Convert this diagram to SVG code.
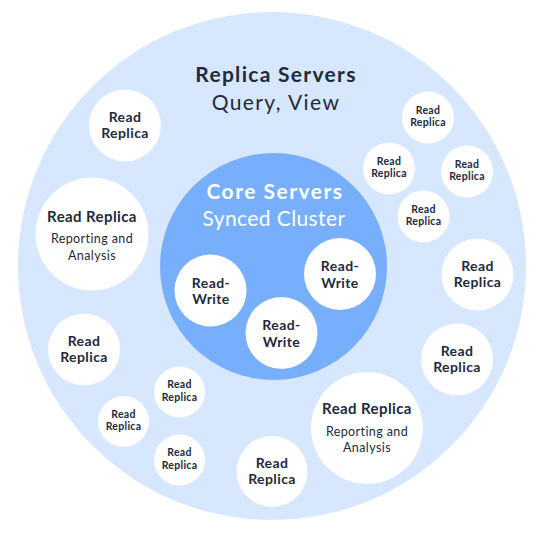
<svg xmlns="http://www.w3.org/2000/svg" width="539" height="533" viewBox="0 0 539 533">
<style>
.node{fill:#ffffff}
.t{font-family:Lato,"Open Sans","DejaVu Sans",sans-serif;fill:#1f2a3b;text-anchor:middle}
.b15{font-size:14px;font-weight:700;letter-spacing:0.4px}
.b11{font-size:10.5px;font-weight:700;letter-spacing:0.3px}
.h14{font-size:15px;font-weight:700;letter-spacing:0.4px}
.r13{font-size:12.5px;font-weight:400;letter-spacing:0.4px}
.w{fill:#ffffff}
</style>
<rect width="539" height="533" fill="#ffffff"/>
<g id="replica-servers">
<circle cx="272" cy="266" r="254" fill="#d7e7fd"/>
<text class="t" x="276" y="82" font-size="21" font-weight="700" letter-spacing="1.3">Replica Servers</text>
<text class="t" x="276" y="110" font-size="21" font-weight="400" letter-spacing="1.4">Query, View</text>
</g>
<g id="core-servers">
<circle cx="273.5" cy="266.5" r="113.5" fill="#77affc"/>
<text class="t w" x="275" y="199" font-size="21" font-weight="700" letter-spacing="1.5">Core Servers</text>
<text class="t w" x="274" y="226" font-size="21" font-weight="400" letter-spacing="0.4">Synced Cluster</text>
</g>
<g id="connectors"></g>
<g id="rw1"><circle class="node" cx="210.5" cy="290.5" r="36"/><text class="t b15" x="211" y="287.5">Read-</text><text class="t b15" x="211" y="304">Write</text></g>
<g id="rw2"><circle class="node" cx="340" cy="274" r="36"/><text class="t b15" x="340" y="271">Read-</text><text class="t b15" x="340" y="287.5">Write</text></g>
<g id="rw3"><circle class="node" cx="281.5" cy="333" r="36"/><text class="t b15" x="281.5" y="330">Read-</text><text class="t b15" x="281.5" y="346.5">Write</text></g>
<g id="rr1"><circle class="node" cx="125" cy="125.5" r="36"/><text class="t b15" x="125" y="121.5">Read</text><text class="t b15" x="125" y="138">Replica</text></g>
<g id="rr-big-left"><circle class="node" cx="92" cy="234" r="56.5"/><text class="t h14" x="92" y="222">Read Replica</text><text class="t r13" x="92" y="243">Reporting and</text><text class="t r13" x="92" y="259.5">Analysis</text></g>
<g id="rr2"><circle class="node" cx="84" cy="349.5" r="36"/><text class="t b15" x="84" y="345.5">Read</text><text class="t b15" x="84" y="362">Replica</text></g>
<g id="rr3"><circle class="node" cx="477.5" cy="274.5" r="36"/><text class="t b15" x="477.5" y="270.5">Read</text><text class="t b15" x="477.5" y="287">Replica</text></g>
<g id="rr4"><circle class="node" cx="457" cy="359.5" r="36"/><text class="t b15" x="457" y="355.5">Read</text><text class="t b15" x="457" y="372">Replica</text></g>
<g id="rr5"><circle class="node" cx="272" cy="471.5" r="35.5"/><text class="t b15" x="272" y="467.5">Read</text><text class="t b15" x="272" y="484">Replica</text></g>
<g id="rr-big-bottom"><circle class="node" cx="367" cy="428" r="56"/><text class="t h14" x="367" y="414">Read Replica</text><text class="t r13" x="367" y="435.5">Reporting and</text><text class="t r13" x="367" y="452">Analysis</text></g>
<g id="s1"><circle class="node" cx="428" cy="117.5" r="26"/><text class="t b11" x="428" y="113.5">Read</text><text class="t b11" x="428" y="126">Replica</text></g>
<g id="s2"><circle class="node" cx="389" cy="168.5" r="26"/><text class="t b11" x="389" y="164.5">Read</text><text class="t b11" x="389" y="177">Replica</text></g>
<g id="s3"><circle class="node" cx="467" cy="171.5" r="26"/><text class="t b11" x="467" y="167.5">Read</text><text class="t b11" x="467" y="180">Replica</text></g>
<g id="s4"><circle class="node" cx="423.5" cy="216.5" r="26"/><text class="t b11" x="423.5" y="212.5">Read</text><text class="t b11" x="423.5" y="225">Replica</text></g>
<g id="s5"><circle class="node" cx="179.5" cy="392" r="25.5"/><text class="t b11" x="179.5" y="388">Read</text><text class="t b11" x="179.5" y="400.5">Replica</text></g>
<g id="s6"><circle class="node" cx="123.5" cy="421.5" r="25.5"/><text class="t b11" x="123.5" y="417.5">Read</text><text class="t b11" x="123.5" y="430">Replica</text></g>
<g id="s7"><circle class="node" cx="179.5" cy="460" r="25.5"/><text class="t b11" x="179.5" y="456">Read</text><text class="t b11" x="179.5" y="468.5">Replica</text></g>
</svg>
